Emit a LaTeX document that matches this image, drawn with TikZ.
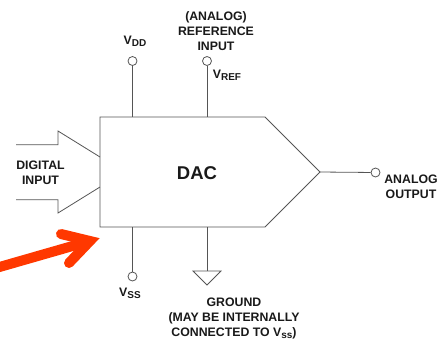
\documentclass[tikz,border=0pt]{standalone}
\usepackage{fontspec}
\setmainfont{Liberation Sans}
\usepackage{xcolor}
\usetikzlibrary{positioning,arrows.meta,calc}
\definecolor{cLine}{RGB}{85,85,85}
\definecolor{cText}{RGB}{25,25,25}
\definecolor{cMark}{RGB}{255,56,0}
\newcommand{\subtxt}[1]{\raisebox{-0.35ex}{\fontsize{10}{10}\selectfont #1}}
\begin{document}
\begin{tikzpicture}[x=1pt,y=-1pt,font=\fontsize{12.3}{15}\selectfont\bfseries,text=cText]
\tikzset{pin/.style={circle,draw=cLine,fill=white,line width=0.8pt,minimum size=9pt,inner sep=0pt},
wire/.style={draw=cLine,line width=0.8pt},
lbl/.style={align=center,inner sep=0pt}}
\useasboundingbox (0,0) rectangle (441,341);
% converter body
\coordinate (tl) at (100,117);
\coordinate (tr) at (265,117);
\coordinate (tip) at (320,172);
\coordinate (br) at (265,227);
\coordinate (bl) at (100,227);
\draw[wire] (tl) -- (tr) -- (tip) -- (br) -- (bl) -- cycle;
\node[lbl,font=\fontsize{18.5}{18.5}\selectfont\bfseries] (dac) at (197,173) {DAC};
% digital input
\coordinate (inA) at (16,144.7);
\coordinate (inB) at (58,144.7);
\coordinate (inC) at (58,131);
\coordinate (inD) at (100,157);
\coordinate (inE) at (16,199.7);
\coordinate (inF) at (58,199.7);
\coordinate (inG) at (58,213);
\coordinate (inH) at (100,187);
\draw[wire] (inA) -- (inB) -- (inC) -- (inD);
\draw[wire] (inE) -- (inF) -- (inG) -- (inH);
\node[lbl] (digital) at (40.5,173) {DIGITAL\\INPUT};
% pins
\node[pin] (vdd) at (132.5,61) {};
\node[pin] (vref) at (207,61) {};
\node[pin] (vss) at (132.5,276.5) {};
\node[pin] (aout) at (375.5,172.5) {};
\coordinate (vddB) at (vdd |- tl);
\coordinate (vrefB) at (vref |- tl);
\coordinate (vssB) at (vss |- bl);
\coordinate (gndB) at (207,227);
\coordinate (gndT) at (207,271);
\coordinate (gndL) at (193,271);
\coordinate (gndR) at (221,271);
\coordinate (gndP) at (207,285);
\draw[wire] (vdd) -- (vddB);
\draw[wire] (vref) -- (vrefB);
\draw[wire] (vss) -- (vssB);
\draw[wire] (tip) -- (aout);
\draw[wire] (gndB) -- (gndT);
\draw[wire] (gndL) -- (gndR) -- (gndP) -- cycle;
% labels
\node[lbl] (vddT) at (135,41) {V\subtxt{DD}};
\node[lbl] (refT) at (216,31) {(ANALOG)\\REFERENCE\\INPUT};
\node[lbl] (vrefT) at (227,75) {V\subtxt{REF}};
\node[lbl] (vssT) at (130,293) {V\subtxt{SS}};
\node[lbl] (gndN) at (234,318) {GROUND\\(MAY BE INTERNALLY\\CONNECTED TO V\subtxt{ss})};
\node[lbl] (aoutT) at (411,187) {ANALOG\\OUTPUT};
% red pointer
\coordinate (mS) at (-4,268);
\coordinate (mE) at (90,241);
\coordinate (mA) at (61,234);
\coordinate (mB) at (69,263);
\draw[cMark,line width=10pt] (mS) -- (mE);
\draw[cMark,line width=10pt,line cap=round,line join=miter] (mA) -- (mE) -- (mB);
\end{tikzpicture}
\end{document}
